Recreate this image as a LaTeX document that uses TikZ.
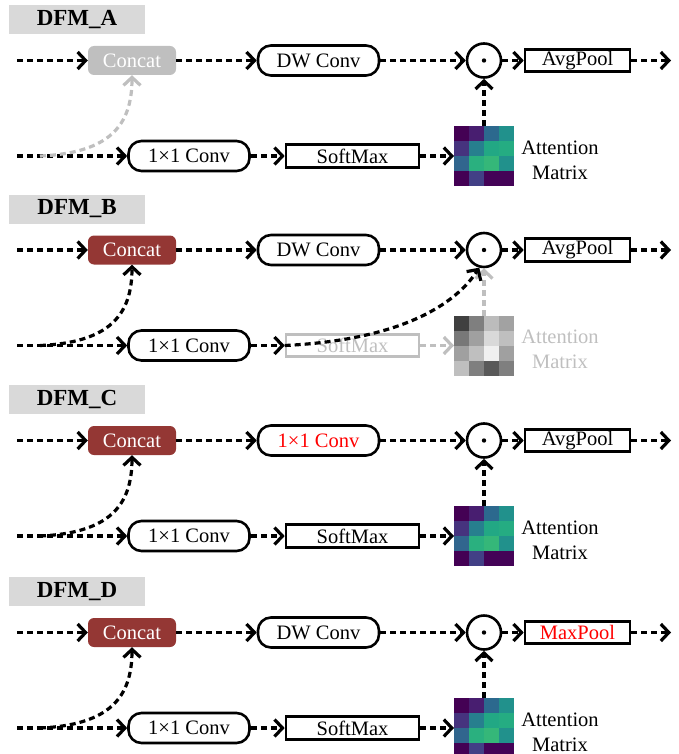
\documentclass[tikz,border=0pt]{standalone}
\usepackage{fontspec}
\setmainfont{Liberation Serif}
\usetikzlibrary{arrows.meta}
\definecolor{cred}{HTML}{943734}
\definecolor{lgray}{HTML}{BFBFBF}
\definecolor{tgray}{HTML}{D9D9D9}
\tikzset{
 dline/.style={line width=3.2pt, dash pattern=on 6pt off 4pt, -{Straight Barb[length=8pt,width=17pt]}},
 rbox/.style={draw, line width=2.6pt, rounded corners=13pt, minimum width=121pt, minimum height=30pt, inner sep=0pt},
 sbox/.style={draw, line width=2.6pt, minimum height=22.5pt, inner sep=0pt},
 concat/.style={fill=cred, text=white, rounded corners=6pt, minimum width=88pt, minimum height=29pt, inner sep=0pt},
 concatg/.style={concat, fill=lgray},
 odot/.style={circle, draw, line width=2.6pt, minimum size=34pt, inner sep=0pt},
 titlebox/.style={fill=tgray, minimum width=136pt, minimum height=29pt, inner sep=0pt, font=\fontsize{23}{27}\selectfont\bfseries},
 mnode/.style={minimum size=60pt, inner sep=0pt, outer sep=0pt},
 amtext/.style={align=center, inner sep=0pt},
}
\newcommand\amat[4]{%
 \node[mnode] (#1) at (#2,#3) {};
 \foreach \col [count=\i from 0] in #4 {
  \pgfmathtruncatemacro\cc{mod(\i,4)}
  \pgfmathtruncatemacro\rr{div(\i,4)}
  \edef\tmpdef{\noexpand\definecolor{cellc}{HTML}{\col}}\tmpdef
  \fill[cellc] (#2-30+\cc*15,#3-30+\rr*15) rectangle +(15.2,15.2);
 }
}
\newcommand\dfmtop[6]{%
 \node[titlebox] (#1t) at (77,19.5) {#2};
 \coordinate (#1i1) at (17,60.5);
 \coordinate (#1i2) at (17,156);
 \coordinate (#1cs) at (40,156);
 \coordinate (#1out) at (671,60.5);
 \node[#3] (#1c) at (132,60.5) {Concat};
 \node[rbox] (#1dw) at (318.5,60.5) {#4};
 \node[odot] (#1o) at (484,60.5) {};
 \fill (#1o) circle (2.2pt);
 \node[sbox, minimum width=105pt] (#1p) at (577.5,60.5) {#5};
 \node[rbox] (#1k) at (189,156) {1×1 Conv};
 \draw[dline] (#1i1) -- (#1c);
 \draw[dline] (#1c) -- (#1dw);
 \draw[dline] (#1dw) -- (#1o);
 \draw[dline] (#1o) -- (#1p);
 \draw[dline] (#1p) -- (#1out);
 \draw[dline] (#1i2) -- (#1k);
 \draw[dline, #6] (#1cs) .. controls (110,153) and (132,125) .. (#1c.south);
}
\newcommand\dfmlow[3]{%
 \node[sbox, minimum width=133pt, draw=#2, text=#2] (#1sm) at (352.5,156) {SoftMax};
 \amat{#1m}{484}{156}{#3}
 \node[amtext, text=#2] (#1at) at (560,160) {Attention\\Matrix};
 \draw[dline] (#1k) -- (#1sm);
 \draw[dline, #2] (#1sm) -- (#1m);
 \draw[dline, #2] (#1m) -- (#1o);
}
\def\viridis{440154,481E70,2C698E,21918C,46337E,277F8E,22A884,25AC82,31668E,2AB07F,35B779,21918C,440154,424086,440357,440357}
\def\grays{404040,7F7F7F,BCBCBC,A2A2A2,787878,A0A0A0,D9D9D9,BFBFBF,A0A0A0,BFBFBF,F0F0F0,A0A0A0,BFBFBF,7F7F7F,595959,7F7F7F}
\begin{document}
\begin{tikzpicture}[x=1pt,y=-1pt,font=\fontsize{20.5}{25}\selectfont]
\useasboundingbox (0,0) rectangle (678,754);
\clip (0,0) rectangle (678,754);
% DFM_A
\begin{scope}
 \dfmtop{a}{DFM\_A}{concatg}{DW Conv}{AvgPool}{lgray}
 \dfmlow{a}{black}{\viridis}
\end{scope}
% DFM_B
\begin{scope}[shift={(0,189.5)}]
 \dfmtop{b}{DFM\_B}{concat}{DW Conv}{AvgPool}{black}
 \dfmlow{b}{lgray}{\grays}
 \draw[dline] (bsm.west) .. controls (400,150.5) and (455,115.5) .. (bo.255);
\end{scope}
% DFM_C
\begin{scope}[shift={(0,380)}]
 \dfmtop{c}{DFM\_C}{concat}{\textcolor{red}{1×1 Conv}}{AvgPool}{black}
 \dfmlow{c}{black}{\viridis}
\end{scope}
% DFM_D
\begin{scope}[shift={(0,572)}]
 \dfmtop{d}{DFM\_D}{concat}{DW Conv}{\textcolor{red}{MaxPool}}{black}
 \dfmlow{d}{black}{\viridis}
\end{scope}
\end{tikzpicture}
\end{document}
